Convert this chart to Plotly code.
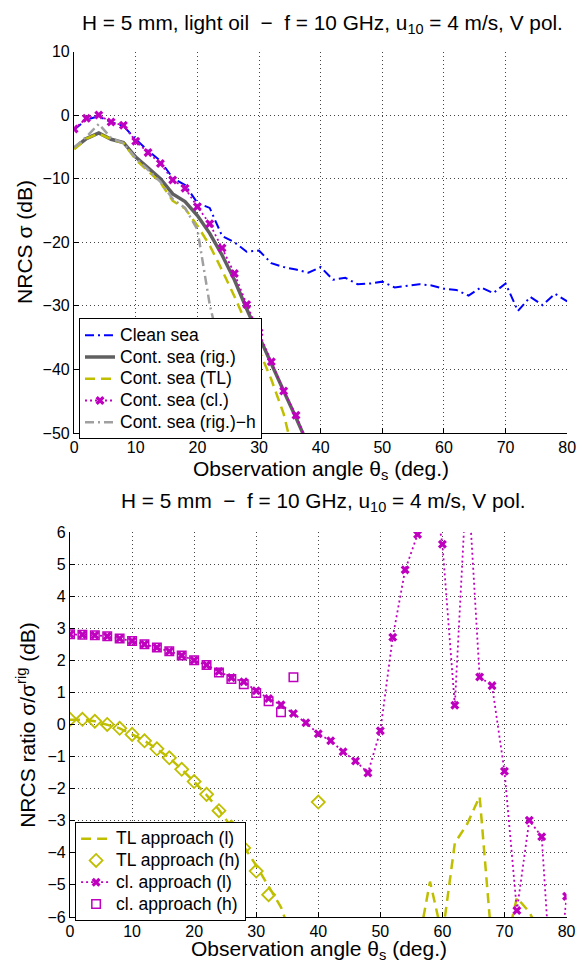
import plotly.graph_objects as go

W, H = 586, 976

# ---------------- data ----------------
theta = list(range(0, 82, 2))  # observation angle (deg), 0..80

# Top panel: NRCS (dB)
clean_sea = [-2.3, -0.7, -0.2, -1.1, -1.7, -3.8, -5.6, -7.2, -9.9, -11.0,
             -13.8, -14.6, -19.0, -20.0, -21.5, -21.3, -23.3, -23.9, -24.3, -24.8,
             -23.9, -25.9, -25.6, -26.6, -26.5, -26.2, -27.1, -26.9, -26.6, -26.8,
             -27.3, -27.5, -28.4, -27.1, -28.0, -26.5, -30.8, -28.6, -29.9, -28.1,
             -29.3]
cont_rig = [-5.2, -3.7, -2.8, -3.8, -4.3, -6.6, -8.3, -10.0, -12.4, -13.6,
            -15.8, -18.6, -22.0, -25.9, -30.5, -34.9, -39.3, -43.4, -47.6, -52.0] + [None] * 21
cont_tl = [-5.4, -3.7, -2.9, -3.8, -4.4, -7.0, -8.8, -10.6, -13.5, -14.7,
           -17.4, -20.5, -24.4, -28.5, -32.9, -37.0, -41.6, -47.0, -55.0] + [None] * 22
cont_cl = [-2.2, -0.5, 0.0, -1.1, -1.6, -4.1, -5.9, -7.6, -10.2, -11.5,
           -14.4, -17.1, -20.9, -24.9, -29.8, -34.2, -38.8, -43.4, -47.2, -52.0] + [None] * 21
cont_rig_h = [-5.1, -3.4, -1.4, -3.6, -4.4, -6.8, -8.6, -10.5, -13.2, -14.6,
              -18.0, -29.8, -38.0, -46.3, -54.5] + [None] * 26

# Bottom panel: NRCS ratio sigma/sigma_rig (dB)
tl_l = [0.15, 0.15, 0.10, 0.0, -0.12, -0.31, -0.51, -0.76, -1.04, -1.40,
        -1.78, -2.20, -2.66, -3.20, -3.80, -4.40, -5.05, -5.70, -6.80,
        None, None, None, None, None, None, None, None, None,
        -7.0, -4.9, -6.6, -3.7, -3.1, -2.25, -6.9, -7.1, -5.4, -5.85, -6.6, -7.5, None]
tl_h = [0.16, 0.16, 0.10, 0.0, -0.12, -0.31, -0.51, -0.76, -1.04, -1.40,
        -1.78, -2.18, -2.69, -3.20, -3.85, -4.57, -5.31, None, None, None,
        -2.42] + [None] * 20
cl_l = [2.81, 2.80, 2.78, 2.75, 2.68, 2.60, 2.50, 2.40, 2.28, 2.15,
        2.00, 1.85, 1.65, 1.46, 1.33, 1.05, 0.81, 0.61, 0.34, 0.05,
        -0.29, -0.51, -0.85, -1.14, -1.51, -0.20, 2.72, 4.82, 5.92, 8.0,
        5.62, 0.60, 8.0, 1.48, 1.21, -1.46, -5.80, -2.99, -3.50, -9.5, -5.36]
cl_h = [2.81, 2.80, 2.78, 2.75, 2.68, 2.60, 2.50, 2.40, 2.28, 2.15,
        2.00, 1.85, 1.62, 1.42, 1.25, 0.98, 0.72, 0.38, 1.47] + [None] * 22

top_yticks = [10, 0, -10, -20, -30, -40, -50]
bot_yticks = [6, 5, 4, 3, 2, 1, 0, -1, -2, -3, -4, -5, -6]
xticks = [0, 10, 20, 30, 40, 50, 60, 70, 80]

top_names = ["Clean sea", "Cont. sea (rig.)", "Cont. sea (TL)", "Cont. sea (cl.)",
             "Cont. sea (rig.)\u2212h"]
bot_names = ["TL approach (l)", "TL approach (h)", "cl. approach (l)", "cl. approach (h)"]

# ---------------- styles ----------------
BLUE = "#0000FF"
RIG = "#606060"
TL = "#BFBF00"
MAG = "#BF00BF"
RIGH = "#A0A0A0"
FONT = "Liberation Sans, Arial, sans-serif"
LEG_TXT = 17.5
TITLE_SIZE = 20.8


def lname(s):
    return "<span style='font-size:%gpx'>%s</span>" % (LEG_TXT, s)


fig = go.Figure()

# top panel traces
fig.add_trace(go.Scatter(x=theta, y=clean_sea, name=lname(top_names[0]), mode="lines",
                         line=dict(color=BLUE, width=2, dash="9px,4px,2px,4px"),
                         xaxis="x", yaxis="y", legend="legend"))
fig.add_trace(go.Scatter(x=theta, y=cont_rig, name=lname(top_names[1]), mode="lines",
                         line=dict(color=RIG, width=3.5),
                         xaxis="x", yaxis="y", legend="legend"))
fig.add_trace(go.Scatter(x=theta, y=cont_tl, name=lname(top_names[2]), mode="lines",
                         line=dict(color=TL, width=2.5, dash="10px,6px"),
                         xaxis="x", yaxis="y", legend="legend"))
fig.add_trace(go.Scatter(x=theta, y=cont_cl, name=lname(top_names[3]), mode="lines+markers",
                         line=dict(color=MAG, width=1.8, dash="2px,3px"),
                         marker=dict(symbol="x", size=8, color=MAG),
                         xaxis="x", yaxis="y", legend="legend"))
fig.add_trace(go.Scatter(x=theta, y=cont_rig_h, name=lname(top_names[4]), mode="lines",
                         line=dict(color=RIGH, width=2.5, dash="9px,4px,2px,4px"),
                         xaxis="x", yaxis="y", legend="legend"))

# bottom panel traces
fig.add_trace(go.Scatter(x=theta, y=tl_l, name=lname(bot_names[0]), mode="lines",
                         line=dict(color=TL, width=2.5, dash="10px,6px"),
                         xaxis="x2", yaxis="y2", legend="legend2"))
fig.add_trace(go.Scatter(x=theta, y=tl_h, name=lname(bot_names[1]), mode="markers",
                         marker=dict(symbol="diamond-open", size=10, color=TL, line=dict(width=1.8)),
                         xaxis="x2", yaxis="y2", legend="legend2"))
fig.add_trace(go.Scatter(x=theta, y=cl_l, name=lname(bot_names[2]), mode="lines+markers",
                         line=dict(color=MAG, width=1.8, dash="2px,3px"),
                         marker=dict(symbol="x", size=8, color=MAG),
                         xaxis="x2", yaxis="y2", legend="legend2"))
fig.add_trace(go.Scatter(x=theta, y=cl_h, name=lname(bot_names[3]), mode="markers",
                         marker=dict(symbol="square-open", size=8.5, color=MAG, line=dict(width=1.5)),
                         xaxis="x2", yaxis="y2", legend="legend2"))


def px_x(p):
    return p / W


def px_y(p):
    return 1 - p / H


axis_common = dict(
    showline=True, linecolor="black", linewidth=1.3,
    ticks="inside", ticklen=5, tickcolor="black", tickwidth=1,
    showgrid=True, gridcolor="#444444", gridwidth=1, griddash="1px,3px",
    zeroline=False, mirror=False,
    tickfont=dict(family=FONT, size=16, color="black"),
)

legend_common = dict(xanchor="left", yanchor="top",
                     bgcolor="white", bordercolor="black", borderwidth=1,
                     font=dict(family=FONT, size=14.4, color="black"),
                     itemwidth=30, tracegroupgap=0)

fig.update_layout(
    width=W, height=H,
    margin=dict(l=0, r=0, t=0, b=0),
    paper_bgcolor="white", plot_bgcolor="white",
    showlegend=True,
    font=dict(family=FONT, color="black"),
    xaxis=dict(domain=[px_x(71.7), px_x(576)], range=[0, 80], tickvals=xticks,
               anchor="y", **axis_common),
    yaxis=dict(domain=[px_y(432.5), px_y(44.3)], range=[-50, 10], tickvals=top_yticks,
               anchor="x", **axis_common),
    xaxis2=dict(domain=[px_x(67.5), px_x(575.3)], range=[0, 80], tickvals=xticks,
                anchor="y2", **axis_common),
    yaxis2=dict(domain=[px_y(925), px_y(533.3)], range=[-6, 6], tickvals=bot_yticks,
                anchor="x2", **axis_common),
    legend=dict(x=px_x(76.7), y=px_y(316), **legend_common),
    legend2=dict(x=px_x(72.7), y=px_y(828.3), **legend_common),
)

ann = []
ann.append(dict(text="H = 5 mm, light oil  \u2212  f = 10 GHz, u<sub>10</sub> = 4 m/s, V pol.",
                x=px_x(325.5), y=px_y(16), xref="paper", yref="paper",
                xanchor="center", yanchor="middle", showarrow=False,
                font=dict(family=FONT, size=TITLE_SIZE, color="black")))
ann.append(dict(text="H = 5 mm  \u2212  f = 10 GHz, u<sub>10</sub> = 4 m/s, V pol.",
                x=px_x(327), y=px_y(503), xref="paper", yref="paper",
                xanchor="center", yanchor="middle", showarrow=False,
                font=dict(family=FONT, size=TITLE_SIZE, color="black")))
ann.append(dict(text="Observation angle \u03b8<sub>s</sub> (deg.)",
                x=px_x(324), y=px_y(470), xref="paper", yref="paper",
                xanchor="center", yanchor="middle", showarrow=False,
                font=dict(family=FONT, size=21, color="black")))
ann.append(dict(text="Observation angle \u03b8<sub>s</sub> (deg.)",
                x=px_x(322), y=px_y(959), xref="paper", yref="paper",
                xanchor="center", yanchor="middle", showarrow=False,
                font=dict(family=FONT, size=21, color="black")))
ann.append(dict(text="NRCS \u03c3 (dB)",
                x=px_x(21), y=px_y(238.5), xref="paper", yref="paper",
                xanchor="center", yanchor="middle", showarrow=False, textangle=-90,
                font=dict(family=FONT, size=21, color="black")))
ann.append(dict(text="NRCS ratio \u03c3/\u03c3<sup>rig</sup> (dB)",
                x=px_x(23), y=px_y(729), xref="paper", yref="paper",
                xanchor="center", yanchor="middle", showarrow=False, textangle=-90,
                font=dict(family=FONT, size=21, color="black")))
fig.update_layout(annotations=ann)

fig.write_html("out.html")
